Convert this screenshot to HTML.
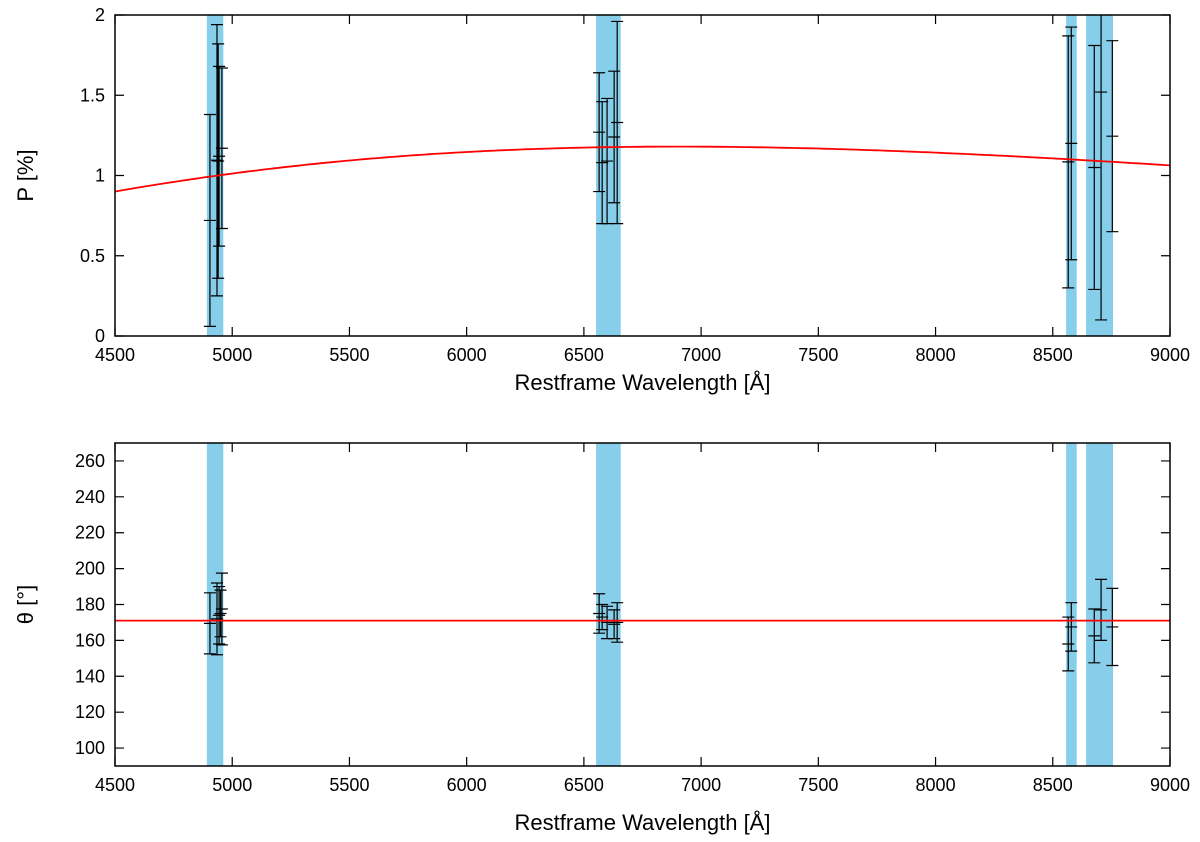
<!DOCTYPE html>
<html><head><meta charset="utf-8"><style>
body{margin:0;background:#fff}
svg{display:block;font-family:"Liberation Sans",sans-serif}
</style></head><body>
<svg id="c" width="1200" height="842"></svg>
<script>
const bands=[[4892,4962],[6552,6657],[8557,8602],[8642,8757]];
const pX=[4905,4935,4940,4944,4956,6565,6578,6599,6629,6642,8566,8579,8677,8706,8754];
const pVal=[0.72,1.095,1.09,1.12,1.17,1.27,1.08,1.09,1.24,1.33,1.085,1.2,1.05,1.52,1.245];
const pErr=[0.66,0.845,0.73,0.56,0.5,0.37,0.38,0.39,0.41,0.63,0.785,0.725,0.76,1.42,0.595];
const tX=[4905,4935,4944,4950,4956,6565,6578,6599,6629,6642,8566,8579,8677,8706,8754];
const tVal=[169.5,172,174,175,177.5,175,173,170,169,170,158,167.5,162.5,177,167.5];
const tErr=[17,20,16,13,20,11,7,9,8,11,15,13.5,15,17,21.5];
const fitPmax=1.18, fitLmax=6900, fitK=1.48, fitTheta=171;
const xTicks=[4500,5000,5500,6000,6500,7000,7500,8000,8500,9000];
const pTicks=[0,0.5,1,1.5,2];
const tTicks=[100,120,140,160,180,200,220,240,260];
const pTickLabels=["0","0.5","1","1.5","2"];

const NS="http://www.w3.org/2000/svg";
const svg=document.getElementById('c');
function mk(t,a,parent){const e=document.createElementNS(NS,t);for(const k in a)e.setAttribute(k,a[k]);(parent||svg).appendChild(e);return e;}
const L=115,R=1170;
const xs=v=>L+(v-4500)/(9000-4500)*(R-L);
function panel(name,top,bot,ymin,ymax,ticks,labels,vals,errs,xsArr,fitFn,ylab,titleOff){
  const g=mk('g',{});
  
  
  const ys=v=>bot-(v-ymin)/(ymax-ymin)*(bot-top);
  const cp='clip-'+name;
  const cl=mk('clipPath',{id:cp},g);mk('rect',{x:L,y:top,width:R-L,height:bot-top},cl);
  bands.forEach(b=>{const r=mk('rect',{x:xs(b[0]),y:top,width:xs(b[1])-xs(b[0]),height:bot-top,fill:'#87ceeb'},g);
    
    });
  const eg=mk('g',{'clip-path':'url(#'+cp+')',stroke:'#000','stroke-width':1.2},g);
  vals.forEach((v,i)=>{const x=xs(xsArr[i]),y1=ys(v+errs[i]),y2=ys(v-errs[i]),y0=ys(v);
    const e=mk('path',{d:`M${x},${y1}V${y2}M${x-6},${y1}H${x+6}M${x-6},${y2}H${x+6}M${x-6},${y0}H${x+6}`,fill:'none'},eg);
    
    });
  let d='';for(let w=4500;w<=9000;w+=20){d+=(w==4500?'M':'L')+xs(w).toFixed(1)+','+ys(fitFn(w)).toFixed(1);}
  const f=mk('path',{d,fill:'none',stroke:'#f00','stroke-width':1.8,'clip-path':'url(#'+cp+')'},g);
  
  
  mk('rect',{x:L,y:top,width:R-L,height:bot-top,fill:'none',stroke:'#000','stroke-width':1.5},g);
  ticks.forEach((t,i)=>{const y=ys(t);mk('path',{d:`M${L},${y}h9M${R},${y}h-9`,stroke:'#000','stroke-width':1.2},g);
    const tl=mk('text',{x:L-10,y:y+6,'text-anchor':'end','font-size':18},g);tl.textContent=labels[i];
    
    });
  xTicks.forEach(t=>{const x=xs(t);mk('path',{d:`M${x},${bot}v-9M${x},${top}v9`,stroke:'#000','stroke-width':1.2},g);
    const tl=mk('text',{x:x,y:bot+25,'text-anchor':'middle','font-size':18},g);tl.textContent=t;
    
    });
  const xt=mk('text',{x:(L+R)/2,y:bot+titleOff,'text-anchor':'middle','font-size':22},g);xt.textContent='Restframe Wavelength [Å]';
  
  
  const yt=mk('text',{x:0,y:0,'text-anchor':'middle','font-size':22,transform:`translate(33,${(top+bot)/2}) rotate(-90)`},g);yt.textContent=ylab;
  
  
}
panel('p-panel',15,336,0,2,pTicks,pTickLabels,pVal,pErr,pX,w=>fitPmax*Math.exp(-fitK*Math.pow(Math.log(fitLmax/w),2)),'P [%]',54);
panel('theta-panel',443,766,90,270,tTicks,tTicks.map(String),tVal,tErr,tX,w=>fitTheta,'θ [°]',64);
</script>
</body></html>
